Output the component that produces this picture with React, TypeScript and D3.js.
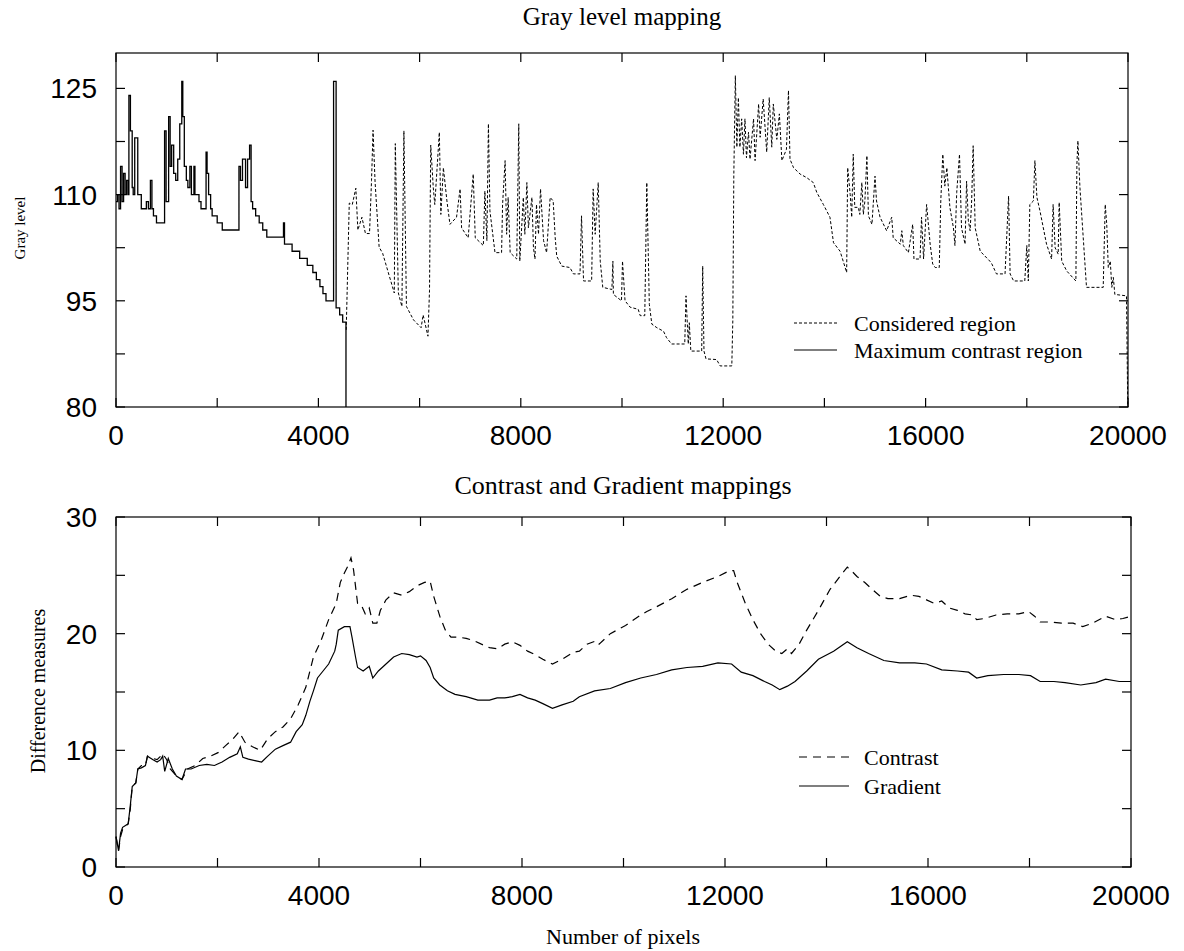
import React from "react";
import * as d3 from "d3";

// tick values
const pixelTicks = [0, 4000, 8000, 12000, 16000, 20000];
const pixelMinor = [2000, 6000, 10000, 14000, 18000];
const grayTicks = [80, 95, 110, 125];
const grayMinor = [87.5, 102.5, 117.5];
const diffTicks = [0, 10, 20, 30];
const diffMinor = [5, 15, 25];

// top panel: maximum contrast region (stepped)
const maxContrastRegion: [number, number][] = [
  [0, 109], [30, 110], [60, 108], [90, 114], [120, 109], [150, 113], [180, 110], [210, 112],
  [240, 110], [255, 124], [285, 119], [320, 111], [340, 110], [370, 118], [400, 118], [430, 110],
  [470, 110], [500, 108], [560, 108], [600, 109], [640, 108], [680, 112], [710, 108], [740, 107],
  [800, 106], [930, 106], [960, 119], [990, 109], [1040, 121], [1070, 114], [1100, 117], [1140, 113],
  [1180, 112], [1220, 115], [1260, 120], [1300, 126], [1320, 121], [1350, 114], [1390, 112], [1420, 111],
  [1460, 114], [1490, 110], [1540, 114], [1560, 110], [1600, 110], [1640, 109], [1680, 108], [1780, 116],
  [1800, 113], [1830, 110], [1870, 108], [1900, 107], [2000, 106], [2100, 105], [2400, 105], [2430, 114],
  [2460, 112], [2500, 115], [2560, 111], [2600, 115], [2640, 117], [2670, 109], [2700, 108], [2760, 107],
  [2830, 106], [2900, 105], [2980, 104], [3300, 104], [3310, 106], [3330, 103], [3480, 102], [3630, 101],
  [3780, 100], [3890, 99], [3960, 98], [4030, 97], [4090, 96], [4150, 95], [4280, 95], [4300, 126],
  [4330, 126], [4350, 94], [4420, 93], [4480, 92], [4540, 92], [4545, 80],
];

// top panel: considered region (dotted)
const consideredRegion: [number, number][] = [
  [4550, 90.9], [4610, 108.8], [4670, 108.6], [4740, 110.9], [4780, 105], [4860, 106.8], [4930, 104.5],
  [5010, 104.5], [5050, 112], [5080, 119.1], [5120, 111.8], [5200, 102.6], [5270, 101.7], [5500, 96.1],
  [5520, 117.2], [5580, 96.1], [5650, 94.2], [5690, 119], [5740, 94.2], [5880, 92.3], [6030, 91.2],
  [6070, 93], [6165, 90], [6196, 96.5], [6220, 117], [6270, 111], [6300, 108.6], [6390, 118.8],
  [6420, 107.2], [6470, 113.8], [6540, 109.1], [6600, 105.8], [6730, 106.8], [6800, 110.8], [6830, 105.3],
  [6960, 103.9], [7060, 112.9], [7100, 103.9], [7260, 102.8], [7290, 110.5], [7330, 103.5], [7360, 120],
  [7390, 107.7], [7490, 101.8], [7620, 101.8], [7640, 108.6], [7690, 114.8], [7720, 104.4], [7750, 109.6],
  [7790, 101.8], [7920, 100.9], [7960, 120], [7980, 100.6], [8050, 109.6], [8080, 104.4], [8120, 111.7],
  [8150, 105.3], [8220, 109.6], [8250, 102.5], [8280, 100.9], [8310, 108.6], [8350, 104.4], [8390, 110.8],
  [8450, 103.5], [8510, 101.8], [8580, 109.6], [8640, 109.1], [8680, 103.9], [8710, 101.3], [8810, 99.9],
  [8970, 99.7], [9040, 98.8], [9170, 98.8], [9200, 107], [9240, 97.8], [9400, 97.8], [9430, 110.8],
  [9470, 104.4], [9530, 111.7], [9570, 100.6], [9620, 96.9], [9800, 96.6], [9820, 100.6], [9830, 95.9],
  [9990, 95], [10010, 100.6], [10060, 95], [10160, 94.1], [10320, 93.8], [10360, 92.9], [10450, 92.9],
  [10490, 111.7], [10540, 94.5], [10590, 91.7], [10690, 91.2], [10820, 90.7], [10880, 89.8], [10980, 88.9],
  [11240, 88.9], [11265, 95.7], [11310, 88.9], [11330, 91.9], [11360, 87.9], [11575, 87.9], [11595, 99.9],
  [11620, 87.9], [11660, 86.8], [11870, 86.7], [11940, 85.8], [12170, 85.8], [12190, 92.2], [12210, 112.9],
  [12240, 126.8], [12270, 116.7], [12300, 123.7], [12330, 116.7], [12365, 120.7], [12400, 115.7],
  [12430, 120.7], [12460, 115.2], [12500, 118.8], [12530, 115], [12600, 120.7], [12630, 114.8],
  [12700, 122.8], [12730, 118.1], [12790, 123.5], [12860, 116], [12910, 123.7], [12960, 116.7],
  [12990, 122.8], [13060, 117.8], [13110, 121.4], [13160, 114.8], [13250, 116.4], [13290, 124.7],
  [13320, 115], [13390, 113.8], [13520, 112.9], [13650, 112.4], [13780, 111.7], [13850, 110.3],
  [13980, 108.6], [14110, 106.8], [14180, 103.2], [14310, 102], [14410, 99.7], [14440, 99], [14460, 113.8],
  [14510, 110], [14540, 106.8], [14570, 115.7], [14600, 108.2], [14670, 108.2], [14700, 107.2],
  [14740, 111.7], [14770, 107.2], [14800, 109.1], [14840, 115.5], [14870, 107], [14940, 105.8],
  [15000, 112.6], [15030, 109.1], [15100, 106.8], [15230, 104.9], [15330, 106.8], [15360, 103.9],
  [15500, 103], [15530, 104.9], [15560, 102.8], [15660, 101.8], [15745, 105.8], [15770, 100.9],
  [15890, 100.9], [15920, 106.8], [15960, 100.9], [16020, 108.6], [16090, 103], [16140, 100.2],
  [16190, 99.7], [16270, 99.7], [16300, 109.1], [16340, 115.7], [16380, 111.2], [16420, 113.8],
  [16480, 108.2], [16550, 105.3], [16580, 102.8], [16615, 110.3], [16670, 115.7], [16710, 105.3],
  [16780, 103], [16810, 111.9], [16845, 106.3], [16880, 104.9], [16910, 109.1], [16940, 116.9],
  [16980, 105.3], [17080, 102], [17270, 100.6], [17310, 100.2], [17400, 98.8], [17570, 98.8],
  [17640, 109.8], [17670, 98.8], [17740, 97.8], [17960, 97.8], [18000, 102.8], [18030, 97.8],
  [18060, 108.6], [18130, 109.1], [18160, 114.8], [18200, 109.6], [18260, 107.7], [18390, 103],
  [18490, 100.9], [18520, 108.6], [18560, 102.5], [18620, 101.6], [18640, 108.9], [18690, 100.6],
  [18790, 99.2], [18970, 97.8], [18990, 114.3], [19010, 117.6], [19050, 111], [19180, 96.9],
  [19510, 96.9], [19550, 108.6], [19580, 105.8], [19610, 99.7], [19650, 100.6], [19680, 96.9],
  [19710, 98.3], [19740, 95.9], [19970, 95.7], [19995, 80],
];

// bottom panel
const contrast: [number, number][] = [
  [0, 2.6], [50, 1.4], [90, 2.6], [130, 3.2], [240, 3.7], [280, 4.9], [320, 6.9], [390, 7.2], [430, 8.4],
  [500, 8.7], [580, 8.7], [620, 9.5], [730, 9.3], [810, 9.2], [880, 9.5], [920, 9.7], [1000, 9.2],
  [1070, 8.4], [1190, 7.8], [1300, 7.5], [1410, 8.4], [1560, 8.7], [1710, 9.3], [1860, 9.5], [2010, 9.8],
  [2160, 10.4], [2310, 11.0], [2425, 11.6], [2540, 10.7], [2690, 10.3], [2840, 10.0], [2990, 11.0],
  [3140, 11.6], [3290, 12.0], [3440, 12.7], [3590, 13.9], [3740, 15.4], [3890, 18.0], [4040, 19.4],
  [4190, 21.2], [4340, 22.6], [4420, 24.4], [4500, 25.2], [4570, 25.8], [4630, 26.5], [4680, 25.5],
  [4760, 22.6], [4830, 22.5], [4910, 21.7], [4990, 22.2], [5060, 20.9], [5140, 20.9], [5210, 22.0],
  [5320, 22.9], [5470, 23.5], [5630, 23.3], [5780, 23.6], [5930, 24.1], [6080, 24.4], [6190, 24.5],
  [6260, 23.2], [6380, 21.5], [6490, 20.3], [6600, 19.7], [6750, 19.7], [6900, 19.6], [7050, 19.4],
  [7200, 19.1], [7360, 18.8], [7510, 18.7], [7660, 19.1], [7810, 19.3], [7960, 19.0], [8110, 18.5],
  [8260, 18.2], [8410, 17.8], [8600, 17.4], [8790, 17.8], [9010, 18.4], [9130, 18.5], [9280, 19.1],
  [9470, 19.4], [9520, 19.1], [9740, 20.0], [10040, 20.7], [10340, 21.6], [10460, 21.9], [10650, 22.3],
  [10950, 23.0], [11250, 23.8], [11560, 24.4], [11860, 24.9], [12090, 25.4], [12170, 25.4], [12240, 24.4],
  [12400, 22.6], [12550, 21.2], [12700, 20.0], [12850, 19.1], [13000, 18.5], [13120, 18.3], [13230, 18.7],
  [13310, 18.3], [13460, 19.1], [13610, 20.3], [13840, 22.0], [14070, 23.8], [14300, 25.1], [14410, 25.7],
  [14490, 25.4], [14600, 24.9], [14750, 24.4], [14900, 23.8], [15060, 23.2], [15210, 23.0], [15440, 23.0],
  [15660, 23.3], [15820, 23.2], [15970, 22.9], [16120, 22.6], [16270, 22.8], [16420, 22.2], [16580, 22.0],
  [16730, 21.7], [16880, 21.6], [16960, 21.2], [17110, 21.3], [17340, 21.6], [17560, 21.7], [17790, 21.7],
  [17980, 21.9], [18100, 21.5], [18210, 21.0], [18400, 21.0], [18630, 20.9], [18860, 20.9], [19050, 20.6],
  [19240, 20.9], [19500, 21.5], [19690, 21.2], [19840, 21.3], [20000, 21.5],
];

const gradient: [number, number][] = [
  [0, 2.6], [50, 1.4], [90, 2.9], [130, 3.4], [240, 3.7], [280, 5.2], [320, 6.9], [390, 7.2], [430, 8.4],
  [500, 8.5], [580, 8.7], [620, 9.5], [730, 9.2], [810, 9.0], [880, 9.2], [920, 9.5], [960, 8.2],
  [1030, 9.3], [1110, 8.4], [1190, 7.8], [1300, 7.5], [1370, 8.4], [1480, 8.4], [1640, 8.7], [1790, 8.8],
  [1940, 8.7], [2090, 9.0], [2240, 9.4], [2390, 9.7], [2450, 10.3], [2500, 9.4], [2610, 9.25], [2760, 9.1],
  [2870, 9.0], [2990, 9.5], [3140, 10.1], [3290, 10.4], [3440, 10.7], [3550, 11.6], [3670, 12.2],
  [3740, 13.0], [3820, 14.2], [3890, 15.1], [3970, 16.2], [4080, 16.8], [4190, 17.4], [4310, 18.5],
  [4340, 19.1], [4380, 20.3], [4500, 20.6], [4610, 20.6], [4650, 19.7], [4720, 18.0], [4760, 17.1],
  [4870, 16.8], [4990, 17.2], [5060, 16.2], [5170, 16.8], [5320, 17.4], [5470, 18.0], [5630, 18.3],
  [5780, 18.2], [5930, 18.0], [6000, 18.1], [6110, 17.7], [6190, 17.1], [6260, 16.2], [6380, 15.6],
  [6530, 15.1], [6680, 14.8], [6900, 14.6], [7130, 14.3], [7360, 14.3], [7510, 14.5], [7660, 14.5],
  [7810, 14.6], [7960, 14.8], [8110, 14.5], [8260, 14.3], [8410, 14.0], [8600, 13.6], [8790, 13.9],
  [9010, 14.2], [9130, 14.6], [9430, 15.1], [9740, 15.3], [10040, 15.8], [10340, 16.2], [10650, 16.5],
  [10950, 16.9], [11250, 17.1], [11560, 17.2], [11860, 17.5], [12130, 17.4], [12320, 16.7], [12550, 16.4],
  [12780, 15.9], [12930, 15.6], [13080, 15.2], [13230, 15.5], [13380, 15.9], [13610, 16.8], [13840, 17.8],
  [14140, 18.5], [14410, 19.3], [14600, 18.8], [14830, 18.3], [15130, 17.7], [15440, 17.5], [15740, 17.5],
  [15970, 17.4], [16270, 16.9], [16580, 16.8], [16800, 16.7], [16960, 16.2], [17180, 16.4], [17490, 16.5],
  [17790, 16.5], [18020, 16.4], [18210, 15.9], [18480, 15.9], [18700, 15.8], [19010, 15.6], [19310, 15.8],
  [19500, 16.1], [19770, 15.9], [20000, 15.9],
];

const SERIF = "'Liberation Serif', 'Times New Roman', serif";
const SANS = "'Liberation Sans', Arial, sans-serif";
const TICK = 9;

type Scale = d3.ScaleLinear<number, number>;

function Frame(props: {
  x: Scale; y: Scale; xTicks: number[]; xMinor: number[]; yTicks: number[]; yMinor: number[];
}) {
  const { x, y, xTicks, xMinor, yTicks, yMinor } = props;
  const [x0, x1] = x.range();
  const [y0, y1] = y.range(); // y0 bottom, y1 top
  const xs = [...xTicks, ...xMinor];
  const ys = [...yTicks, ...yMinor];
  return (
    <g stroke="#000" strokeWidth={1.2}>
      {xs.map((t) => (
        <g key={"x" + t}>
          <line x1={x(t)} x2={x(t)} y1={y0} y2={y0 - TICK} />
          <line x1={x(t)} x2={x(t)} y1={y1} y2={y1 + TICK} />
        </g>
      ))}
      {ys.map((t) => (
        <g key={"y" + t}>
          <line x1={x0} x2={x0 + TICK} y1={y(t)} y2={y(t)} />
          <line x1={x1} x2={x1 - TICK} y1={y(t)} y2={y(t)} />
        </g>
      ))}
      <rect x={x0} y={y1} width={x1 - x0} height={y0 - y1} fill="none" />
      <g stroke="none" fill="#000" fontFamily={SANS} fontSize={28}>
        {xTicks.map((t) => (
          <text key={"xl" + t} x={x(t)} y={y0 + 38} textAnchor="middle">{t}</text>
        ))}
        {yTicks.map((t) => (
          <text key={"yl" + t} x={x0 - 19} y={y(t) + 10} textAnchor="end">{t}</text>
        ))}
      </g>
    </g>
  );
}

export default function App() {
  const xTop = d3.scaleLinear().domain([0, 20000]).range([116, 1128]);
  const yTop = d3.scaleLinear().domain([80, 130]).range([407, 53]);
  const xBot = d3.scaleLinear().domain([0, 20000]).range([116, 1131]);
  const yBot = d3.scaleLinear().domain([0, 30]).range([867, 517]);

  const lineTop = d3.line<[number, number]>().x((d) => xTop(d[0])).y((d) => yTop(d[1]));
  const stepTop = d3.line<[number, number]>().x((d) => xTop(d[0])).y((d) => yTop(d[1])).curve(d3.curveStepAfter);
  const lineBot = d3.line<[number, number]>().x((d) => xBot(d[0])).y((d) => yBot(d[1]));

  return (
    <svg width={1184} height={951} style={{ position: "absolute", left: 0, top: 0, background: "#fff" }}>
      <rect width={1184} height={951} fill="#fff" />

      {/* top panel */}
      <text x={622} y={25} textAnchor="middle" fontFamily={SERIF} fontSize={25}>Gray level mapping</text>
      <path d={lineTop(consideredRegion) || ""} fill="none" stroke="#000" strokeWidth={1} strokeDasharray="3,2" />
      <path d={stepTop(maxContrastRegion) || ""} fill="none" stroke="#000" strokeWidth={1.3} />
      <Frame x={xTop} y={yTop} xTicks={pixelTicks} xMinor={pixelMinor} yTicks={grayTicks} yMinor={grayMinor} />
      <text transform="translate(25,228) rotate(-90)" textAnchor="middle" fontFamily={SERIF} fontSize={15}>Gray level</text>
      <g fontFamily={SERIF} fontSize={22}>
        <line x1={794} x2={837} y1={323} y2={323} stroke="#000" strokeWidth={1} strokeDasharray="3,2" />
        <text x={854} y={331}>Considered region</text>
        <line x1={794} x2={837} y1={350} y2={350} stroke="#000" strokeWidth={1.2} />
        <text x={854} y={358}>Maximum contrast region</text>
      </g>

      {/* bottom panel */}
      <text x={623} y={494} textAnchor="middle" fontFamily={SERIF} fontSize={26}>Contrast and Gradient mappings</text>
      <path d={lineBot(contrast) || ""} fill="none" stroke="#000" strokeWidth={1.2} strokeDasharray="8,6" />
      <path d={lineBot(gradient) || ""} fill="none" stroke="#000" strokeWidth={1.2} />
      <Frame x={xBot} y={yBot} xTicks={pixelTicks} xMinor={pixelMinor} yTicks={diffTicks} yMinor={diffMinor} />
      <text transform="translate(45,691) rotate(-90)" textAnchor="middle" fontFamily={SERIF} fontSize={20}>Difference measures</text>
      <g fontFamily={SERIF} fontSize={22}>
        <line x1={799} x2={849} y1={757} y2={757} stroke="#000" strokeWidth={1.2} strokeDasharray="8,6" />
        <text x={864} y={765}>Contrast</text>
        <line x1={799} x2={849} y1={786} y2={786} stroke="#000" strokeWidth={1.2} />
        <text x={864} y={794}>Gradient</text>
      </g>
      <text x={623} y={944} textAnchor="middle" fontFamily={SERIF} fontSize={22}>Number of pixels</text>
    </svg>
  );
}
